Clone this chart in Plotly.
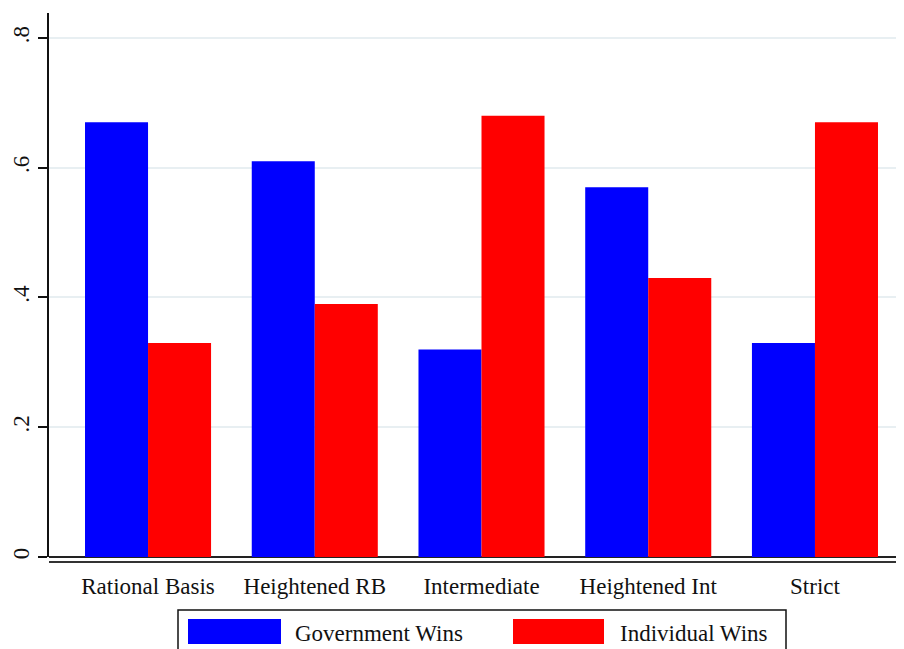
import plotly.graph_objects as go

categories = ["Rational Basis", "Heightened RB", "Intermediate", "Heightened Int", "Strict"]
government_wins = [0.67, 0.61, 0.32, 0.57, 0.33]
individual_wins = [0.33, 0.39, 0.68, 0.43, 0.67]
series_names = ["Government Wins", "Individual Wins"]
y_tick_vals = [0, 0.2, 0.4, 0.6, 0.8]
y_tick_text = ["0", ".2", ".4", ".6", ".8"]

BLUE = "#0000ff"
RED = "#ff0000"
FONT = "Liberation Serif"
FS = 23

# page body has an 8px margin; work in window pixels and shift
OFF = 8
W, H = 904 - OFF, 649 - OFF
ML, MR, MT = 49 - OFF, 0, 13 - OFF
AXIS_Y = 562 - OFF
MB = H - AXIS_Y
PW = W - ML - MR
PH = H - MT - MB


def px_x(px):
    return (px - OFF - ML) / PW


def px_y(py):
    return (AXIS_Y - (py - OFF)) / PH


fig = go.Figure()
fig.add_trace(go.Bar(x=list(range(len(categories))), y=government_wins, name=series_names[0],
                     marker=dict(color=BLUE, line=dict(width=0)), showlegend=False))
fig.add_trace(go.Bar(x=list(range(len(categories))), y=individual_wins, name=series_names[1],
                     marker=dict(color=RED, line=dict(width=0)), showlegend=False))

# manual legend (box, swatches, labels)
shapes = [
    dict(type="rect", xref="paper", yref="paper", x0=px_x(178), x1=px_x(786), y0=px_y(665), y1=px_y(610),
         line=dict(color="#111111", width=1.5), fillcolor="rgba(0,0,0,0)"),
    dict(type="rect", xref="paper", yref="paper", x0=px_x(188), x1=px_x(281), y0=px_y(644), y1=px_y(619),
         line=dict(width=0), fillcolor=BLUE),
    dict(type="rect", xref="paper", yref="paper", x0=px_x(513), x1=px_x(604), y0=px_y(644), y1=px_y(619),
         line=dict(width=0), fillcolor=RED),
]
annotations = [
    dict(xref="paper", yref="paper", x=px_x(293), y=px_y(633), text=series_names[0], showarrow=False,
         xanchor="left", yanchor="middle", font=dict(family=FONT, size=FS, color="#111111")),
    dict(xref="paper", yref="paper", x=px_x(618), y=px_y(633), text=series_names[1], showarrow=False,
         xanchor="left", yanchor="middle", font=dict(family=FONT, size=FS, color="#111111")),
]

fig.update_layout(
    width=W, height=H,
    margin=dict(l=ML, r=MR, t=MT, b=MB),
    paper_bgcolor="white", plot_bgcolor="white",
    barmode="group", bargap=0.244, bargroupgap=0,
    showlegend=False,
    shapes=shapes, annotations=annotations,
    font=dict(family=FONT, size=FS, color="#111111"),
    xaxis=dict(
        range=[-0.594, 4.534],
        tickvals=list(range(len(categories))), ticktext=categories,
        showline=True, linecolor="#333333", linewidth=2,
        ticks="", showgrid=False, zeroline=False,
        anchor="free", position=0,
        tickfont=dict(family=FONT, size=FS, color="#111111"),
        ticklabelstandoff=3,
    ),
    yaxis=dict(
        domain=[5 / PH, 1],
        range=[0, 0.8385],
        tickvals=y_tick_vals, ticktext=y_tick_text,
        tickangle=-90,
        showline=True, linecolor="#111111", linewidth=1.5,
        ticks="outside", ticklen=9, tickwidth=1.5, tickcolor="#111111",
        showgrid=True, gridcolor="#e8eff2", gridwidth=1.5,
        zeroline=True, zerolinecolor="#222222", zerolinewidth=1.5,
        tickfont=dict(family=FONT, size=FS, color="#111111"),
        ticklabelstandoff=0,
    ),
)

fig.write_html("out.html")
